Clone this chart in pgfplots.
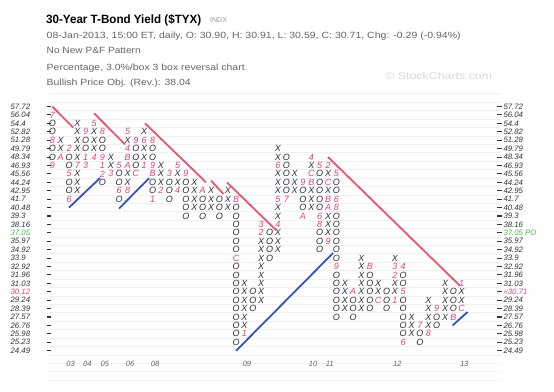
\documentclass[border=0pt]{standalone}
\usepackage{fontspec}
\setmainfont{Liberation Sans}
\usepackage{graphicx}
\usepackage{pgfplots}
\pgfplotsset{compat=1.18}
\definecolor{xo}{HTML}{2E2E3C}
\definecolor{mon}{HTML}{E0457B}
\definecolor{rl}{HTML}{E8566F}
\definecolor{bl}{HTML}{3A4FC2}
\definecolor{gridc}{HTML}{F0F0F0}
\definecolor{grn}{HTML}{4CB84C}
\definecolor{lab}{HTML}{333340}
\definecolor{hdrc}{HTML}{666666}
\tikzset{yr/.style={font=\fontsize{7.6}{8}\selectfont\itshape, text=black!60}}
\pgfplotsset{
  pfbase/.style={
    at={(49pt,10.8pt)}, anchor=south west, scale only axis,
    width=450.5pt, height=286.3pt,
    xmin=-0.395, xmax=53.52, ymin=-3.5, ymax=30.5,
    axis line style={draw=none}, xtick=\empty, ytick={0,...,29},
  },
  pflab/.style={font=\fontsize{7.8}{8}\selectfont\itshape, text=lab, inner sep=0pt, anchor=west},
  box/.style={draw=none, mark=none, nodes near coords, point meta=explicit symbolic,
    nodes near coords align={center},
    every node near coord/.append style={anchor=center, inner sep=0pt,
      font=\fontsize{9}{9}\selectfont\itshape, text=#1}},
  rline/.style={rl, line width=1.8pt},
  bline/.style={bl, line width=1.8pt},
}
\begin{document}
\begin{tikzpicture}[x=1pt,y=1pt]
\useasboundingbox (0,0) rectangle (554,391);
\fill[white] (0,0) rectangle (554,391);
% header
\node[anchor=west,inner sep=0] at (46,371) {\resizebox{155pt}{\height}{\fontsize{12}{13}\selectfont\bfseries 30-Year T-Bond Yield (\$TYX)}};
\node[anchor=west,inner sep=0,text=black!40] at (210,370.5) {\fontsize{7}{8}\selectfont INDX};
\node[anchor=west,inner sep=0,text=hdrc] at (46.5,355) {\resizebox{414pt}{\height}{\fontsize{9}{10}\selectfont 08-Jan-2013, 15:00 ET, daily, O: 30.90, H: 30.91, L: 30.59, C: 30.71, Chg: -0.29 (-0.94\%)}};
\node[anchor=west,inner sep=0,text=hdrc] at (46.5,340.3) {\resizebox{94pt}{\height}{\fontsize{9}{10}\selectfont No New P\&F Pattern}};
\node[anchor=west,inner sep=0,text=hdrc] at (46.5,322.7) {\resizebox{198pt}{\height}{\fontsize{9}{10}\selectfont Percentage, 3.0\%/box 3 box reversal chart}};
\node[anchor=west,inner sep=0,text=hdrc] at (46.5,307.7) {\resizebox{144pt}{\height}{\fontsize{9}{10}\selectfont Bullish Price Obj. (Rev.): 38.04}};
\node[anchor=west,inner sep=0,text=black!15] at (385,315) {\resizebox{107pt}{\height}{\fontsize{10}{11}\selectfont \textcopyright\ StockCharts.com}};

\begin{axis}[pfbase,
  minor xtick={-0.5,0.5,...,53.5}, minor ytick={-3.5,-2.5,...,30.5},
  grid=minor, minor grid style={gridc, line width=0.8pt}, minor tick length=0pt,
  major tick length=4.5pt, tick align=center, ytick pos=both, yticklabel pos=left,
  tick style={lab, line width=1.1pt},
  yticklabel style={pflab, xshift=-36.3pt},
  yticklabels={24.49,25.23,25.98,26.76,27.57,28.39,29.24,{\color{mon}30.12},31.03,31.96,32.92,33.9,34.92,35.97,{\color{grn}37.05},38.16,39.3,40.48,41.7,42.95,44.24,45.56,46.93,48.34,49.79,51.28,52.82,54.4,56.04,57.72},
  clip=false]
% trend lines
\addplot[rline] coordinates {(0,29) (2.5,26.5)};
\addplot[rline] coordinates {(5,28.2) (8.7,24.5)};
\addplot[rline] coordinates {(11.1,27) (18.4,20)};
\addplot[rline] coordinates {(19,20.2) (20.5,18.6)};
\addplot[rline] coordinates {(20.9,20) (26.8,14.3)};
\addplot[rline] coordinates {(33,23) (48.8,7.7)};
\addplot[bline] coordinates {(2,17) (5.7,20.5)};
\addplot[bline] coordinates {(8,16.9) (11.6,20.5)};
\addplot[bline] coordinates {(22,0) (33.6,11.6)};
\addplot[bline] coordinates {(47.9,3) (49.7,4.6)};
% X boxes
\addplot[box=xo] coordinates {
(1,24)[X] (1,25)[X]
(3,19)[X] (3,20)[X] (3,21)[X] (3,23)[X] (3,24)[X] (3,25)[X] (3,26)[X] (3,27)[X]
(5,24)[X] (5,25)[X] (5,26)[X]
(7,22)[X] (7,23)[X]
(9,20)[X] (9,21)[X] (9,25)[X]
(11,23)[X] (11,24)[X] (11,26)[X]
(13,20)[X] (13,21)[X] (13,22)[X]
(15,20)[X] (15,21)[X]
(17,17)[X] (17,18)[X] (17,19)[X] (17,20)[X]
(19,17)[X] (19,18)[X] (19,19)[X]
(21,17)[X] (21,18)[X] (21,19)[X]
(23,3)[X] (23,4)[X] (23,5)[X] (23,6)[X] (23,7)[X] (23,8)[X]
(25,6)[X] (25,7)[X] (25,8)[X] (25,9)[X] (25,10)[X] (25,11)[X] (25,12)[X] (25,13)[X]
(27,12)[X] (27,13)[X] (27,14)[X] (27,16)[X] (27,17)[X] (27,19)[X] (27,20)[X] (27,21)[X] (27,23)[X] (27,24)[X]
(29,19)[X] (29,20)[X] (29,21)[X]
(31,17)[X] (31,18)[X] (31,19)[X] (31,22)[X]
(33,14)[X] (33,15)[X] (33,16)[X] (33,19)[X] (33,21)[X]
(35,5)[X] (35,6)[X] (35,7)[X] (35,8)[X]
(37,5)[X] (37,6)[X] (37,7)[X] (37,8)[X] (37,9)[X] (37,10)[X] (37,11)[X]
(39,7)[X] (39,8)[X]
(41,7)[X] (41,8)[X] (41,11)[X]
(43,2)[X] (43,3)[X] (43,4)[X]
(45,3)[X] (45,4)[X] (45,5)[X] (45,6)[X]
(47,4)[X] (47,5)[X] (47,6)[X] (47,7)[X] (47,8)[X]
(49,6)[X] (49,7)[X]
};
% O boxes
\addplot[box=xo] coordinates {
(0,27)[O] (0,26)[O] (0,24)[O] (0,23)[O]
(2,23)[O] (2,22)[O] (2,20)[O] (2,19)[O]
(4,25)[O] (4,24)[O]
(6,25)[O] (6,24)[O] (6,20)[O]
(8,21)[O] (8,20)[O] (8,18)[O]
(10,24)[O] (10,23)[O] (10,22)[O]
(12,24)[O] (12,23)[O] (12,20)[O] (12,19)[O]
(14,20)[O] (14,19)[O] (14,18)[O]
(16,20)[O] (16,19)[O] (16,18)[O] (16,17)[O] (16,16)[O]
(18,18)[O] (18,17)[O] (18,16)[O]
(20,18)[O] (20,17)[O] (20,16)[O]
(22,17)[O] (22,16)[O] (22,15)[O] (22,14)[O] (22,13)[O] (22,12)[O] (22,10)[O] (22,9)[O] (22,8)[O] (22,7)[O] (22,6)[O] (22,5)[O] (22,4)[O] (22,3)[O] (22,2)[O] (22,1)[O]
(24,7)[O] (24,6)[O] (24,5)[O]
(26,14)[O] (26,13)[O] (26,12)[O] (26,11)[O]
(28,23)[O] (28,22)[O] (28,21)[O] (28,20)[O] (28,19)[O]
(30,19)[O] (30,18)[O] (30,17)[O]
(32,21)[O] (32,20)[O] (32,19)[O] (32,18)[O] (32,17)[O] (32,14)[O] (32,13)[O] (32,12)[O]
(34,20)[O] (34,19)[O] (34,16)[O] (34,15)[O] (34,14)[O] (34,13)[O] (34,12)[O] (34,11)[O] (34,9)[O] (34,8)[O] (34,7)[O] (34,6)[O] (34,5)[O] (34,4)[O]
(36,6)[O] (36,5)[O] (36,4)[O]
(38,9)[O] (38,8)[O] (38,7)[O] (38,6)[O] (38,5)[O]
(40,7)[O] (40,6)[O] (40,5)[O]
(42,9)[O] (42,8)[O] (42,6)[O] (42,5)[O] (42,4)[O] (42,3)[O] (42,2)[O]
(44,2)[O] (44,1)[O]
(46,4)[O] (46,3)[O]
(48,7)[O] (48,6)[O] (48,5)[O]
};
% month markers
\addplot[box=mon] coordinates {
(0,28)[7] (0,25)[8] (0,22)[9] (1,23)[A] (2,24)[2] (2,21)[5] (2,18)[6] (3,22)[7]
(4,26)[9] (4,23)[1] (4,22)[3] (5,23)[4] (5,27)[5] (6,26)[8] (6,23)[9] (6,22)[1] (6,21)[2]
(7,21)[3] (8,22)[5] (8,19)[6] (9,19)[8] (9,22)[A] (9,23)[B] (9,24)[4] (9,26)[5]
(10,25)[9] (10,21)[C] (11,22)[1] (11,25)[6] (12,25)[8] (12,22)[9] (12,21)[B] (12,18)[1]
(13,19)[2] (14,21)[3] (15,19)[4] (15,22)[5] (16,21)[9] (18,19)[A] (22,18)[B] (22,11)[C]
(23,2)[1] (25,14)[2] (25,15)[3] (27,15)[4] (27,18)[5] (27,22)[6] (28,18)[7]
(30,20)[9] (30,16)[A] (31,20)[B] (31,21)[C] (31,23)[4] (32,22)[5] (32,16)[6] (32,15)[8]
(33,13)[9] (33,17)[A] (33,18)[B] (33,20)[C] (33,22)[2] (34,21)[5] (34,18)[6] (34,17)[8] (34,10)[9]
(36,7)[A] (38,10)[B] (39,6)[C] (41,6)[1] (41,9)[2] (41,10)[3] (42,10)[4] (42,7)[5] (42,1)[6]
(44,3)[7] (45,2)[8] (46,5)[9] (48,4)[B] (49,5)[C] (49,8)[1]
};
% year labels
\node[yr] at (axis cs:2.2,-1.6) {03};
\node[yr] at (axis cs:4.2,-1.6) {04};
\node[yr] at (axis cs:6.3,-1.6) {05};
\node[yr] at (axis cs:9.3,-1.6) {06};
\node[yr] at (axis cs:12.3,-1.6) {08};
\node[yr] at (axis cs:23.3,-1.6) {09};
\node[yr] at (axis cs:31.2,-1.6) {10};
\node[yr] at (axis cs:33.2,-1.6) {11};
\node[yr] at (axis cs:41.3,-1.6) {12};
\node[yr] at (axis cs:49.3,-1.6) {13};
\end{axis}

\begin{axis}[pfbase, ytick pos=right, yticklabel pos=right, major tick length=0pt,
  yticklabel style={pflab, xshift=3.8pt},
  yticklabels={24.49,25.23,25.98,26.76,27.57,28.39,29.24,{\color{mon}\guillemotleft 30.71},31.03,31.96,32.92,33.9,34.92,35.97,{\color{grn}37.05 PO},38.16,39.3,40.48,41.7,42.95,44.24,45.56,46.93,48.34,49.79,51.28,52.82,54.4,56.04,57.72}]
\addplot[draw=none] coordinates {(0,0)};
\end{axis}
\end{tikzpicture}
\end{document}
